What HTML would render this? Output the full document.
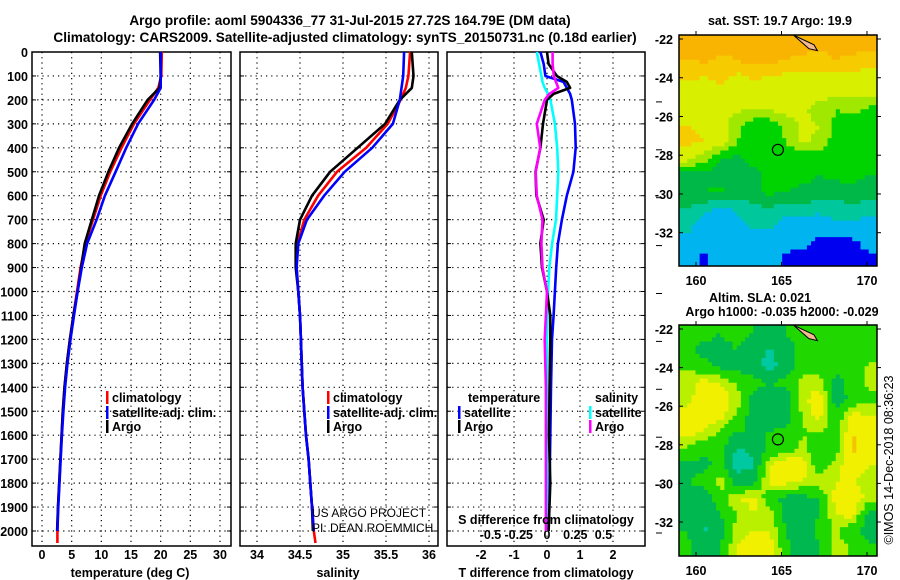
<!DOCTYPE html>
<html><head><meta charset="utf-8"><style>
html,body{margin:0;padding:0;background:#fff;}
svg{display:block;font-family:"Liberation Sans",Arial,sans-serif;}
.b{font-weight:bold;font-size:12.5px;}
</style></head><body>
<svg id="c" width="900" height="580" viewBox="0 0 900 580">
<g id="gfx"></g>
<text x="350" y="25" text-anchor="middle" font-weight="bold" font-size="13.6">Argo profile: aoml 5904336_77 31-Jul-2015 27.72S 164.79E (DM data)</text>
<text x="345" y="42" text-anchor="middle" font-weight="bold" font-size="13.6">Climatology: CARS2009. Satellite-adjusted climatology: synTS_20150731.nc (0.18d earlier)</text>
<text x="130" y="577" text-anchor="middle" class="b">temperature (deg C)</text>
<text x="338" y="577" text-anchor="middle" class="b">salinity</text>
<text x="546" y="577" text-anchor="middle" class="b">T difference from climatology</text>
<text x="546" y="524" text-anchor="middle" class="b">S difference from climatology</text>
<text x="312" y="517" font-size="12">US ARGO PROJECT</text>
<text x="312" y="532" font-size="12">PI: DEAN ROEMMICH</text>
<text x="780" y="25" text-anchor="middle" class="b">sat. SST: 19.7 Argo: 19.9</text>
<text x="760" y="302" text-anchor="middle" class="b">Altim. SLA: 0.021</text>
<text x="782" y="316" text-anchor="middle" class="b">Argo h1000: -0.035 h2000: -0.029</text>
<text transform="translate(893,460) rotate(-90)" text-anchor="middle" font-size="12.5">©IMOS 14-Dec-2018 08:36:23</text>
</svg>
<script>
// ---- profile data ----
const depthsProf = [0,100,150,200,300,400,500,600,700,800,900,1000,1100,1200,1300,1400,1500,1600,1700,1800,1900,2000,2050];
const tempArgo = [19.9,20.0,19.8,17.8,15.2,13.0,11.2,9.6,8.4,7.2,6.6,6.0,5.3,4.7,4.2,3.8,3.5,3.3,3.1,2.9,2.7,2.55,null];
const tempClim = [20.2,20.1,19.6,18.2,15.5,13.4,11.5,9.9,8.6,7.3,6.5,5.9,5.3,4.7,4.2,3.8,3.5,3.3,3.1,2.9,2.7,2.6,2.6];
const tempSat  = [20.0,20.0,20.0,18.9,16.2,14.2,12.4,10.6,9.2,7.6,6.7,6.0,5.4,4.8,4.3,3.9,3.6,3.35,3.15,2.95,2.75,2.6,null];
const salArgo = [35.80,35.82,35.80,35.66,35.49,35.17,34.85,34.64,34.50,34.45,34.45,34.48,34.50,34.51,34.52,34.53,34.55,34.57,34.60,34.62,34.64,34.65,null];
const salClim = [35.78,35.76,35.73,35.67,35.52,35.27,34.93,34.71,34.55,34.47,34.46,34.48,34.50,34.51,34.52,34.53,34.55,34.57,34.60,34.62,34.64,34.66,34.68];
const salSat  = [35.71,35.70,35.68,35.66,35.58,35.34,35.02,34.78,34.58,34.48,34.46,34.48,34.50,34.51,34.52,34.53,34.55,34.57,34.60,34.62,34.64,34.66,null];
// ---- difference data ----
const depthsDiff = [0,50,100,125,150,175,200,300,400,500,600,700,800,900,1000,1100,1200,1400,1600,1800,2000];
const tDiffSat  = [-0.2,-0.1,-0.05,0.5,0.6,0.7,0.75,0.85,0.87,0.8,0.6,0.45,0.33,0.28,0.24,0.2,0.15,0.12,0.1,0.08,0.05];
const tDiffArgo = [0,0.05,0.3,0.6,0.7,0.2,0,-0.12,-0.2,-0.35,-0.32,-0.1,-0.2,-0.15,0,0.1,0.1,0.08,0.06,0.1,0.05];
const sDiffSat  = [-0.09,-0.07,-0.05,-0.04,-0.02,0.01,0.03,0.07,0.09,0.1,0.09,0.08,0.045,0.02,0.01,0.005,0,0,0,0,0];
const sDiffArgo = [0.05,0.05,0.06,0.08,0.1,0.02,-0.02,-0.09,-0.06,-0.1,-0.09,-0.04,-0.05,-0.04,0,-0.01,-0.02,-0.01,-0.01,-0.01,-0.01];
// ---- tick labels ----
const depthTicks = [0,100,200,300,400,500,600,700,800,900,1000,1100,1200,1300,1400,1500,1600,1700,1800,1900,2000];
const tempTicks = [0,5,10,15,20,25,30];
const salTicks = [34,34.5,35,35.5,36];
const tdTicks = [-2,-1,0,1,2];
const sdTicks = [-0.5,-0.25,0,0.25,0.5];
const sdTickLabels = ["-0.5","-0.25","0","0.25","0.5"];
const lonTicks = [160,165,170];
const latTicks = [-22,-24,-26,-28,-30,-32];
// ---- map data (rows north->south, cols west->east) ----
const sstGrid = [
[22,22,22,22,22,22,22,22,22,22,22,22],
[21.8,21.9,21.7,21.8,22,22,21.8,21.7,21.6,21.8,21.7,21.6],
[21.4,21.3,21.5,21.2,21.4,21.3,21.2,21.1,21.2,21.1,21.2,21.0],
[21.1,21.0,21.1,21.0,20.9,21.0,21.0,20.9,21.0,21.0,20.9,20.9],
[21.2,21.1,21.0,20.9,20.8,20.9,21.0,20.9,20.6,20.3,20.4,20.2],
[21.3,21.2,21.0,20.5,20.0,19.9,20.5,20.9,20.8,20.2,20.1,20.3],
[21.4,21.3,21.1,20.3,19.9,19.9,20.3,20.9,20.7,20.0,20.1,20.2],
[21.0,20.5,19.8,19.7,19.9,19.9,19.9,19.9,19.8,19.9,20.1,20.3],
[19.6,19.6,19.5,19.6,19.7,19.9,20.0,19.9,19.8,19.9,19.9,19.8],
[19.6,19.8,19.9,19.6,19.7,19.9,19.8,19.7,19.7,19.6,19.7,19.6],
[19.4,19.2,18.9,19.1,19.3,19.4,19.2,19.3,19.1,19.2,19.3,19.2],
[19.2,18.7,18.7,18.8,19.1,19.1,18.8,18.7,18.8,18.9,18.9,18.8],
[18.8,18.6,18.6,18.7,18.6,18.7,18.6,18.6,18.2,18.2,18.3,18.6],
[18.6,18.3,18.6,18.6,18.6,18.6,18.3,18.2,18.2,18.2,18.2,18.3]];
const slaGrid = [
[0,-0.02,-0.03,-0.02,-0.03,-0.04,-0.03,-0.02,-0.03,-0.03,-0.02,0.0],
[-0.02,-0.04,-0.04,-0.03,-0.05,-0.07,-0.04,-0.02,-0.03,-0.01,-0.02,-0.01],
[0,-0.02,-0.04,-0.04,-0.05,-0.08,-0.05,-0.01,-0.02,-0.02,-0.03,0.01],
[0.02,0.04,0.03,0,-0.02,-0.03,-0.02,0.02,0.02,-0.04,-0.02,0.01],
[0.02,0.05,0.05,0.02,-0.04,-0.05,-0.06,0.02,0.05,-0.05,-0.02,0.0],
[0.04,0.05,0.04,0.0,-0.05,-0.06,-0.05,0.01,0.04,-0.02,0.04,0.03],
[0.04,0.03,0.0,-0.03,-0.03,-0.03,-0.02,0.0,0.01,-0.02,0.06,0.05],
[0.0,-0.02,-0.02,-0.07,-0.06,-0.02,-0.02,0.02,-0.03,-0.01,0.07,0.04],
[-0.04,-0.04,-0.02,-0.08,-0.07,0.03,0.06,0.04,-0.02,0.02,0.05,0.03],
[-0.03,-0.02,0.02,-0.05,-0.04,0.04,0.04,0.03,0.02,0.03,0.03,0.02],
[-0.04,-0.05,-0.01,0.03,0.04,-0.02,-0.04,-0.04,-0.03,0.04,0.05,0.02],
[-0.04,-0.06,-0.03,0.0,0.03,0.02,-0.05,-0.05,-0.03,0.03,0.04,-0.04],
[-0.03,-0.07,-0.05,0.02,0.03,0.03,-0.03,-0.06,-0.02,0.01,-0.02,-0.05],
[-0.02,-0.05,-0.03,0.03,0.04,0.05,-0.02,-0.06,-0.03,0.02,0.0,-0.02]];
const floatLon = 164.79;
const floatLat = -27.72;

const NS="http://www.w3.org/2000/svg";
const G=document.getElementById('gfx');
function mk(tag,attrs,parent){const e=document.createElementNS(NS,tag);for(const k in attrs)e.setAttribute(k,attrs[k]);(parent||G).appendChild(e);return e;}
function txt(x,y,s,anchor,cls,parent){const t=mk('text',{x:x,y:y,'text-anchor':anchor||'middle','class':cls||'b'},parent);t.textContent=s;return t;}

const Y0=52,Y1=546;
const yD=d=>Y0+d*0.2395;
const panels=[
 {x0:32,x1:231,sx:v=>42+v*5.933,name:'temperature'},
 {x0:240,x1:438,sx:v=>257+(v-34)*86,name:'salinity'},
 {x0:447,x1:645,sx:v=>547+v*33,name:'difference'}];
const sxS=v=>547+v*113;

panels.forEach((p,pi)=>{
  const g=mk('g',{});
  
  
  depthTicks.forEach(d=>{ if(d>0){const l=mk('line',{x1:p.x0,x2:p.x1,y1:yD(d),y2:yD(d),stroke:'#000','stroke-width':1.2,'stroke-dasharray':'1.2 4'},g);
    }
    mk('line',{x1:p.x0,x2:p.x0+4,y1:yD(d),y2:yD(d),stroke:'#000'},g);
    mk('line',{x1:p.x1,x2:p.x1-4,y1:yD(d),y2:yD(d),stroke:'#000'},g);
  });
  const ticks=pi===0?tempTicks:pi===1?salTicks:tdTicks;
  ticks.forEach(v=>{const x=p.sx(v);
    const l=mk('line',{x1:x,x2:x,y1:Y0,y2:Y1,stroke:'#000','stroke-width':1.2,'stroke-dasharray':'1.2 4'},g);
    
    const t=txt(x,559,String(v),'middle','b',g);
    });
  const r=mk('rect',{x:p.x0,y:Y0,width:p.x1-p.x0,height:Y1-Y0,fill:'none',stroke:'#000','stroke-width':1.5},g);
  
});
depthTicks.forEach(d=>{const t=txt(28,yD(d)+5,String(d),'end');
  });
sdTicks.forEach((v,i)=>{const t=txt(sxS(v),539,sdTickLabels[i]);
  });
depthTicks.forEach(d=>{ if(d%200===0&&d>0) mk('line',{x1:656,x2:662,y1:yD(d)+2,y2:yD(d)+2,stroke:'#000'});});

function line(depths,vals,sx,color,name,w){
  let pts=[];depths.forEach((d,i)=>{if(vals[i]!==null)pts.push(sx(vals[i]).toFixed(1)+','+yD(d).toFixed(1));});
  const pl=mk('polyline',{points:pts.join(' '),fill:'none',stroke:color,'stroke-width':w||2.6,'stroke-linejoin':'round'});
  
}
line(depthsProf,tempClim,panels[0].sx,'#f00','temp-climatology-line');
line(depthsProf,tempArgo,panels[0].sx,'#000','temp-argo-line');
line(depthsProf,tempSat,panels[0].sx,'#00f','temp-satellite-line');
line(depthsProf,salClim,panels[1].sx,'#f00','sal-climatology-line');
line(depthsProf,salArgo,panels[1].sx,'#000','sal-argo-line');
line(depthsProf,salSat,panels[1].sx,'#00f','sal-satellite-line');
line(depthsDiff,tDiffSat,panels[2].sx,'#00f','t-diff-satellite-line');
line(depthsDiff,sDiffSat,sxS,'#0ff','s-diff-satellite-line');
line(depthsDiff,tDiffArgo,panels[2].sx,'#000','t-diff-argo-line');
line(depthsDiff,sDiffArgo,sxS,'#f0f','s-diff-argo-line');

function legend(x,y,color,label,name){
  const g=mk('g',{});
  mk('rect',{x:x,y:y-11,width:2.5,height:13,fill:color},g);
  txt(x+6,y,label,'start','b',g);
}
legend(106,402,'#f00','climatology','legend-temp-climatology');
legend(106,417,'#00f','satellite-adj. clim.','legend-temp-satellite');
legend(106,431,'#000','Argo','legend-temp-argo');
legend(327,402,'#f00','climatology','legend-sal-climatology');
legend(327,417,'#00f','satellite-adj. clim.','legend-sal-satellite');
legend(327,431,'#000','Argo','legend-sal-argo');
{const t=txt(468,402,'temperature','start');
 const s=txt(595,402,'salinity','start');}
legend(458,417,'#00f','satellite','legend-tdiff-satellite');
legend(458,431,'#000','Argo','legend-tdiff-argo');
legend(589,417,'#0ff','satellite','legend-sdiff-satellite');
legend(589,431,'#f0f','Argo','legend-sdiff-argo');

// maps
const lonX=l=>696+(l-160)*17.1;
function sstColor(v){if(v>=21.8)return'#f8b400';if(v>=21.3)return'#f6cc00';if(v>=20.8)return'#d8f000';if(v>=20.3)return'#a0e800';if(v>=19.8)return'#00d400';if(v>=19.4)return'#00b848';if(v>=19.0)return'#00c89c';if(v>=18.4)return'#00b4f0';return'#0000f0';}
function slaColor(v){if(v>=0.06)return'#f5c400';if(v>=0.03)return'#f0f000';if(v>=0.005)return'#b8f000';if(v>=-0.03)return'#20d800';if(v>=-0.065)return'#00b850';return'#00c8a0';}
function sample(grid,fy,fx){
  const rows=grid.length,cols=grid[0].length;
  let y=Math.min(Math.max(fy*rows-0.5,0),rows-1),x=Math.min(Math.max(fx*cols-0.5,0),cols-1);
  const y0=Math.floor(y),x0=Math.floor(x),y1=Math.min(y0+1,rows-1),x1=Math.min(x0+1,cols-1),ty=y-y0,tx=x-x0;
  return grid[y0][x0]*(1-ty)*(1-tx)+grid[y0][x1]*(1-ty)*tx+grid[y1][x0]*ty*(1-tx)+grid[y1][x1]*ty*tx;
}
function drawMap(grid,colorFn,top,bot,latY,name){
  const L=679,R=877;const g=mk('g',{});
  const NR=grid.length*4,NC=grid[0].length*4,cw=(R-L)/NC,ch=(bot-top)/NR;
  for(let i=0;i<NR;i++)for(let j=0;j<NC;j++){
    const v=sample(grid,(i+0.5)/NR,(j+0.5)/NC);
    const c=mk('rect',{x:(L+j*cw).toFixed(2),y:(top+i*ch).toFixed(2),width:(cw+0.4).toFixed(2),height:(ch+0.4).toFixed(2),fill:colorFn(v)},g);
    }
  mk('path',{d:`M${lonX(165.7)} ${latY(-21.8)} L${lonX(166.9)} ${latY(-22.3)} L${lonX(167.1)} ${latY(-22.6)} L${lonX(166.6)} ${latY(-22.5)} Z`,fill:'#f4b890',stroke:'#000','stroke-width':1},g);
  const fl=mk('circle',{cx:lonX(floatLon),cy:latY(floatLat),r:5.5,fill:'none',stroke:'#000','stroke-width':1.2},g);
  
  mk('rect',{x:L,y:top,width:R-L,height:bot-top,fill:'none',stroke:'#000','stroke-width':1.5},g);
  latTicks.forEach(la=>{const y=latY(la);mk('line',{x1:L,x2:L+4,y1:y,y2:y,stroke:'#000'},g);mk('line',{x1:R,x2:R+4,y1:y,y2:y,stroke:'#000'},g);
    const t=txt(673,y+5,String(la),'end','b',g);});
  lonTicks.forEach(lo=>{const x=lonX(lo);mk('line',{x1:x,x2:x,y1:bot,y2:bot-4,stroke:'#000'},g);mk('line',{x1:x,x2:x,y1:top,y2:top-4,stroke:'#000'},g);
    const t=txt(x,bot+19,String(lo),'middle','b',g);});
}
drawMap(sstGrid,sstColor,35,266,la=>39+(-22-la)*19.37,'sst-map');
drawMap(slaGrid,slaColor,325,556,la=>329+(-22-la)*19.3,'sla-map');
</script>
</body></html>
